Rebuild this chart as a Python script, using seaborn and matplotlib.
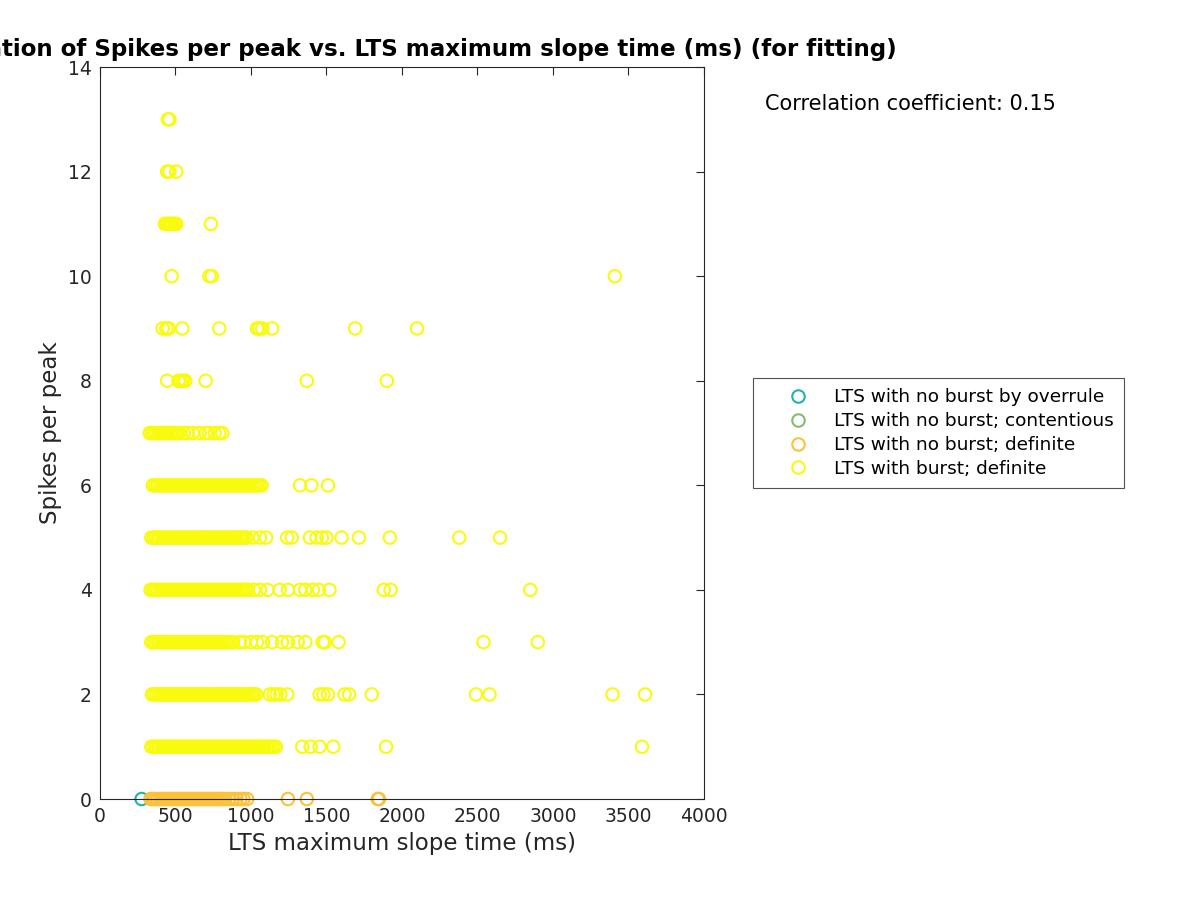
import numpy as np
import pandas as pd
import seaborn as sns
import matplotlib
matplotlib.use("Agg")
import matplotlib.pyplot as plt
from matplotlib.lines import Line2D

sns.set_style("white")
plt.rcParams['font.family'] = ['DejaVu Sans']

# group labels and colours (parula-like)
groups = ["LTS with no burst by overrule",
          "LTS with no burst; contentious",
          "LTS with no burst; definite",
          "LTS with burst; definite"]
colors = ["#1FB5A6", "#82BE6C", "#FDC13A", "#F9FB0E"]

# LTS maximum slope time (ms) per spikes-per-peak value
overrule_t = [276]
overrule_n = [0]

contentious_t = []
contentious_n = []

nob_t = [335, 350, 365, 380, 395, 410, 425, 440, 455, 470, 485, 500, 515, 530,
         545, 560, 575, 590, 605, 620, 635, 650, 665, 680, 695, 710, 725, 740,
         755, 770, 785, 800, 815, 830,
         855, 880, 905, 930, 950, 975, 1245, 1370, 1840, 1848]
nob_n = [0] * len(nob_t)

burst_t = {
    1: [340, 355, 370, 385, 400, 415, 430, 445, 460, 475, 490, 505, 520, 535,
        550, 565, 580, 595, 610, 625, 640, 655, 670, 685, 700, 715, 730, 745,
        760, 775, 790, 805, 820, 835, 850, 865, 880, 895, 910, 925, 940, 955,
        970, 985, 1000, 1015, 1030, 1045, 1060, 1075, 1090, 1105, 1120, 1135,
        1150, 1165,
        1340, 1395, 1455, 1545, 1895, 3590],
    2: [345, 360, 375, 390, 405, 420, 435, 450, 465, 480, 495, 510, 525, 540,
        555, 570, 585, 600, 615, 630, 645, 660, 675, 690, 705, 720, 735, 750,
        765, 780, 795, 810, 825, 840, 855, 870, 885, 900, 915, 930, 945, 960,
        975, 990, 1005, 1020, 1035,
        1125, 1150, 1170, 1195, 1240, 1455, 1480, 1510, 1620, 1650, 1800,
        2490, 2580, 3395, 3610],
    3: [340, 355, 370, 385, 400, 415, 430, 445, 460, 475, 490, 505, 520, 535,
        550, 565, 580, 595, 610, 625, 640, 655, 670, 685, 700, 715, 730, 745,
        760, 775, 790, 805, 820, 835, 850, 865, 880,
        925, 955, 1000, 1040, 1080, 1140, 1205, 1245, 1310, 1360, 1475, 1490,
        1580, 2540, 2900],
    4: [335, 350, 365, 380, 395, 410, 425, 440, 455, 470, 485, 500, 515, 530,
        545, 560, 575, 590, 605, 620, 635, 650, 665, 680, 695, 710, 725, 740,
        755, 770, 785, 800, 815, 830, 845, 860, 875, 890, 905, 920, 935, 950,
        965, 980,
        1020, 1060, 1110, 1190, 1245, 1325, 1360, 1410, 1450, 1520, 1880,
        1925, 2850],
    5: [340, 355, 370, 385, 400, 415, 430, 445, 460, 475, 490, 505, 520, 535,
        550, 565, 580, 595, 610, 625, 640, 655, 670, 685, 700, 715, 730, 745,
        760, 775, 790, 805, 820, 835, 850, 865, 880, 895, 910, 925, 940, 955,
        970,
        1010, 1060, 1100, 1240, 1270, 1390, 1435, 1470, 1500, 1600, 1715,
        1920, 2380, 2650],
    6: [350, 365, 380, 395, 410, 425, 440, 455, 470, 485, 500, 515, 530, 545,
        560, 575, 590, 605, 620, 635, 650, 665, 680, 695, 710, 725, 740, 755,
        770, 785, 800, 815, 830, 845, 860, 875, 890, 905, 920, 935, 950, 965,
        980, 995, 1010, 1025, 1040, 1055, 1070,
        1325, 1400, 1510],
    7: [330, 345, 360, 375, 390, 405, 420, 435, 450, 465, 480, 495, 510, 525,
        555, 580, 615, 660, 700, 720, 760, 790, 810],
    8: [445, 520, 535, 550, 565, 700, 1370, 1900],
    9: [415, 440, 455, 545, 790, 1040, 1055, 1075, 1140, 1690, 2100],
    10: [475, 725, 740, 3410],
    11: [430, 440, 450, 460, 470, 480, 495, 505, 735],
    12: [445, 460, 505],
    13: [450, 460],
}
burst_tt = [t for n in burst_t for t in burst_t[n]]
burst_nn = [n for n in burst_t for t in burst_t[n]]

corr_coef = 0.15

frames = [
    pd.DataFrame({"t": overrule_t, "n": overrule_n, "g": groups[0]}),
    pd.DataFrame({"t": contentious_t, "n": contentious_n, "g": groups[1]}),
    pd.DataFrame({"t": nob_t, "n": nob_n, "g": groups[2]}),
    pd.DataFrame({"t": burst_tt, "n": burst_nn, "g": groups[3]}),
]

fig = plt.figure(figsize=(12, 9), dpi=100)
ax = fig.add_axes([0.0833, 0.1122, 0.5033, 0.8133])

for df, c in zip(frames, colors):
    if len(df) == 0:
        continue
    sns.scatterplot(data=df, x="t", y="n", ax=ax, marker="o", s=80,
                    color=c, facecolor="none", edgecolor=c, linewidth=1.5,
                    legend=False, clip_on=False)

ax.set_xlim(0, 4000)
ax.set_ylim(0, 14)
ax.set_xticks(np.arange(0, 4001, 500))
ax.set_yticks(np.arange(0, 15, 2))
ax.tick_params(direction="in", top=True, right=True, length=6, width=0.8,
               labelsize=13.5, colors="#262626", pad=6)
for sp in ax.spines.values():
    sp.set_visible(True)
    sp.set_color("#262626")
    sp.set_linewidth(0.8)

ax.set_xlabel("LTS maximum slope time (ms)", fontsize=16.5, color="#262626")
ax.set_ylabel("Spikes per peak", fontsize=16.5, color="#262626")
ax.set_title("Correlation of Spikes per peak vs. LTS maximum slope time (ms) (for fitting)",
             fontsize=16.55, fontweight="bold", color="black", pad=8)

ax.text(1.101, 0.949, f"Correlation coefficient: {corr_coef:.2f}",
        transform=ax.transAxes, fontsize=15, ha="left", va="center", color="black")

handles = [Line2D([], [], linestyle="none", marker="o", markersize=9,
                  markerfacecolor="none", markeredgecolor=c, markeredgewidth=1.5)
           for c in colors]
leg = ax.legend(handles, groups, loc="center left", bbox_to_anchor=(1.081, 0.5),
                fontsize=13.3, frameon=True, fancybox=False, edgecolor="#262626",
                handletextpad=0.08, borderpad=0.55, labelspacing=0.32,
                handlelength=3.75, borderaxespad=0)
leg.get_frame().set_linewidth(0.8)
for t in leg.get_texts():
    t.set_color("black")

fig.savefig("out.png", dpi=100)
